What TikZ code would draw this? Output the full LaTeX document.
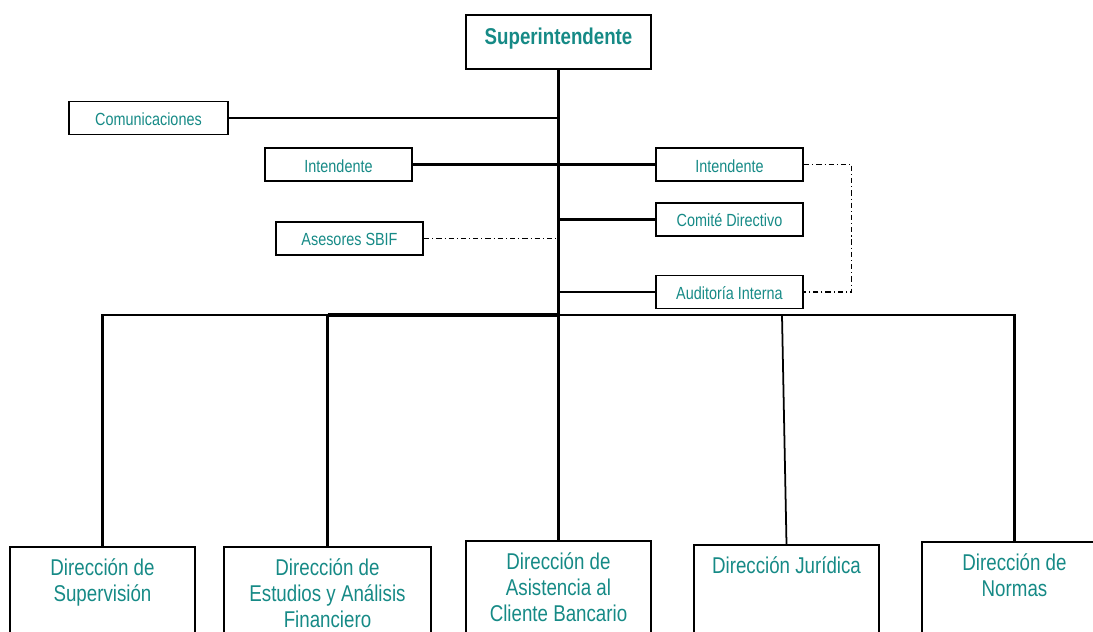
\documentclass[tikz,border=0pt]{standalone}
\usepackage{fontspec}
\setmainfont{Liberation Sans}[FakeStretch=0.82]
\definecolor{sbifteal}{RGB}{22,138,134}

\begin{document}
\begin{tikzpicture}[x=0.02cm,y=-0.02cm,
  caja/.style={draw,line width=1.1pt,inner sep=0pt,text=sbifteal},
  chica/.style={caja,minimum width=2.94cm,text height=0.48cm,text depth=0.18cm,font=\fontsize{10}{12}\selectfont},
  grande/.style={draw,line width=1.1pt,minimum width=3.7cm,minimum height=2.4cm,anchor=north},
  rotulo/.style={anchor=north,inner sep=0pt,yshift=-7pt,align=center,text=sbifteal,font=\fontsize{13}{14.7}\selectfont},
  linea/.style={line width=1.4pt},
  punteada/.style={line width=0.6pt,dash pattern=on 3pt off 1.7pt on 0.6pt off 1.7pt}]

\useasboundingbox (0,0) rectangle (1093,632);
\clip (0,0) rectangle (1093,632);

\node[caja,minimum width=3.7cm,text height=0.6cm,text depth=0.48cm,font=\fontsize{13}{15}\selectfont\bfseries] (sup) at (558.5,42) {Superintendente};
\coordinate (hub) at (558.5,315);

\node[chica,minimum width=3.18cm] (com) at (148.5,118) {Comunicaciones};
\node[chica] (intI) at (338.5,164.5) {Intendente};
\node[chica] (ase) at (349.5,238.5) {Asesores SBIF};
\node[chica] (intD) at (729.5,164.5) {Intendente};
\node[chica] (comite) at (729.5,219.5) {Comité Directivo};
\node[chica] (aud) at (729.5,292) {Auditoría Interna};

% direcciones
\node[grande] (dsup) at (102.5,546) {};
\node[grande,minimum width=4.14cm] (dest) at (327.5,546) {};
\node[grande] (dasi) at (558.5,540) {};
\node[grande] (djur) at (786.5,544) {};
\node[grande] (dnor) at (1014.5,541) {};
\node[rotulo] (tsup) at (dsup.north) {Dirección de\\Supervisión};
\node[rotulo] (test) at (dest.north) {Dirección de\\Estudios y Análisis\\Financiero};
\node[rotulo] (tasi) at (dasi.north) {Dirección de\\Asistencia al\\Cliente Bancario};
\node[rotulo] (tjur) at (djur.north) {Dirección Jurídica};
\node[rotulo] (tnor) at (dnor.north) {Dirección de\\Normas};

\draw[line width=1.8pt] (sup.south) -- (hub);
\draw[linea] (com) -- (com -| hub);
\draw[linea] (intI) -- (intI -| hub);
\draw[linea] (intD) -- (intD -| hub);
\draw[linea] (comite) -- (comite -| hub);
\draw[linea] (aud) -- (aud -| hub);
\draw[punteada] (ase) -- (ase -| hub);
\draw[punteada] (intD.east) -- ++(48,0) |- (aud.east);

\coordinate (jur) at (782,315);
\draw[linea] (dsup.north) |- (hub);
\draw[linea] (dest.north) |- (hub);
\draw[line width=2pt] (dest.north |- hub) -- (hub);
\draw[linea] (dnor.north) |- (hub);
\draw[linea] (dasi.north) -- (hub);
\draw[line width=1pt] (djur.north) -- (jur);

\end{tikzpicture}
\end{document}
